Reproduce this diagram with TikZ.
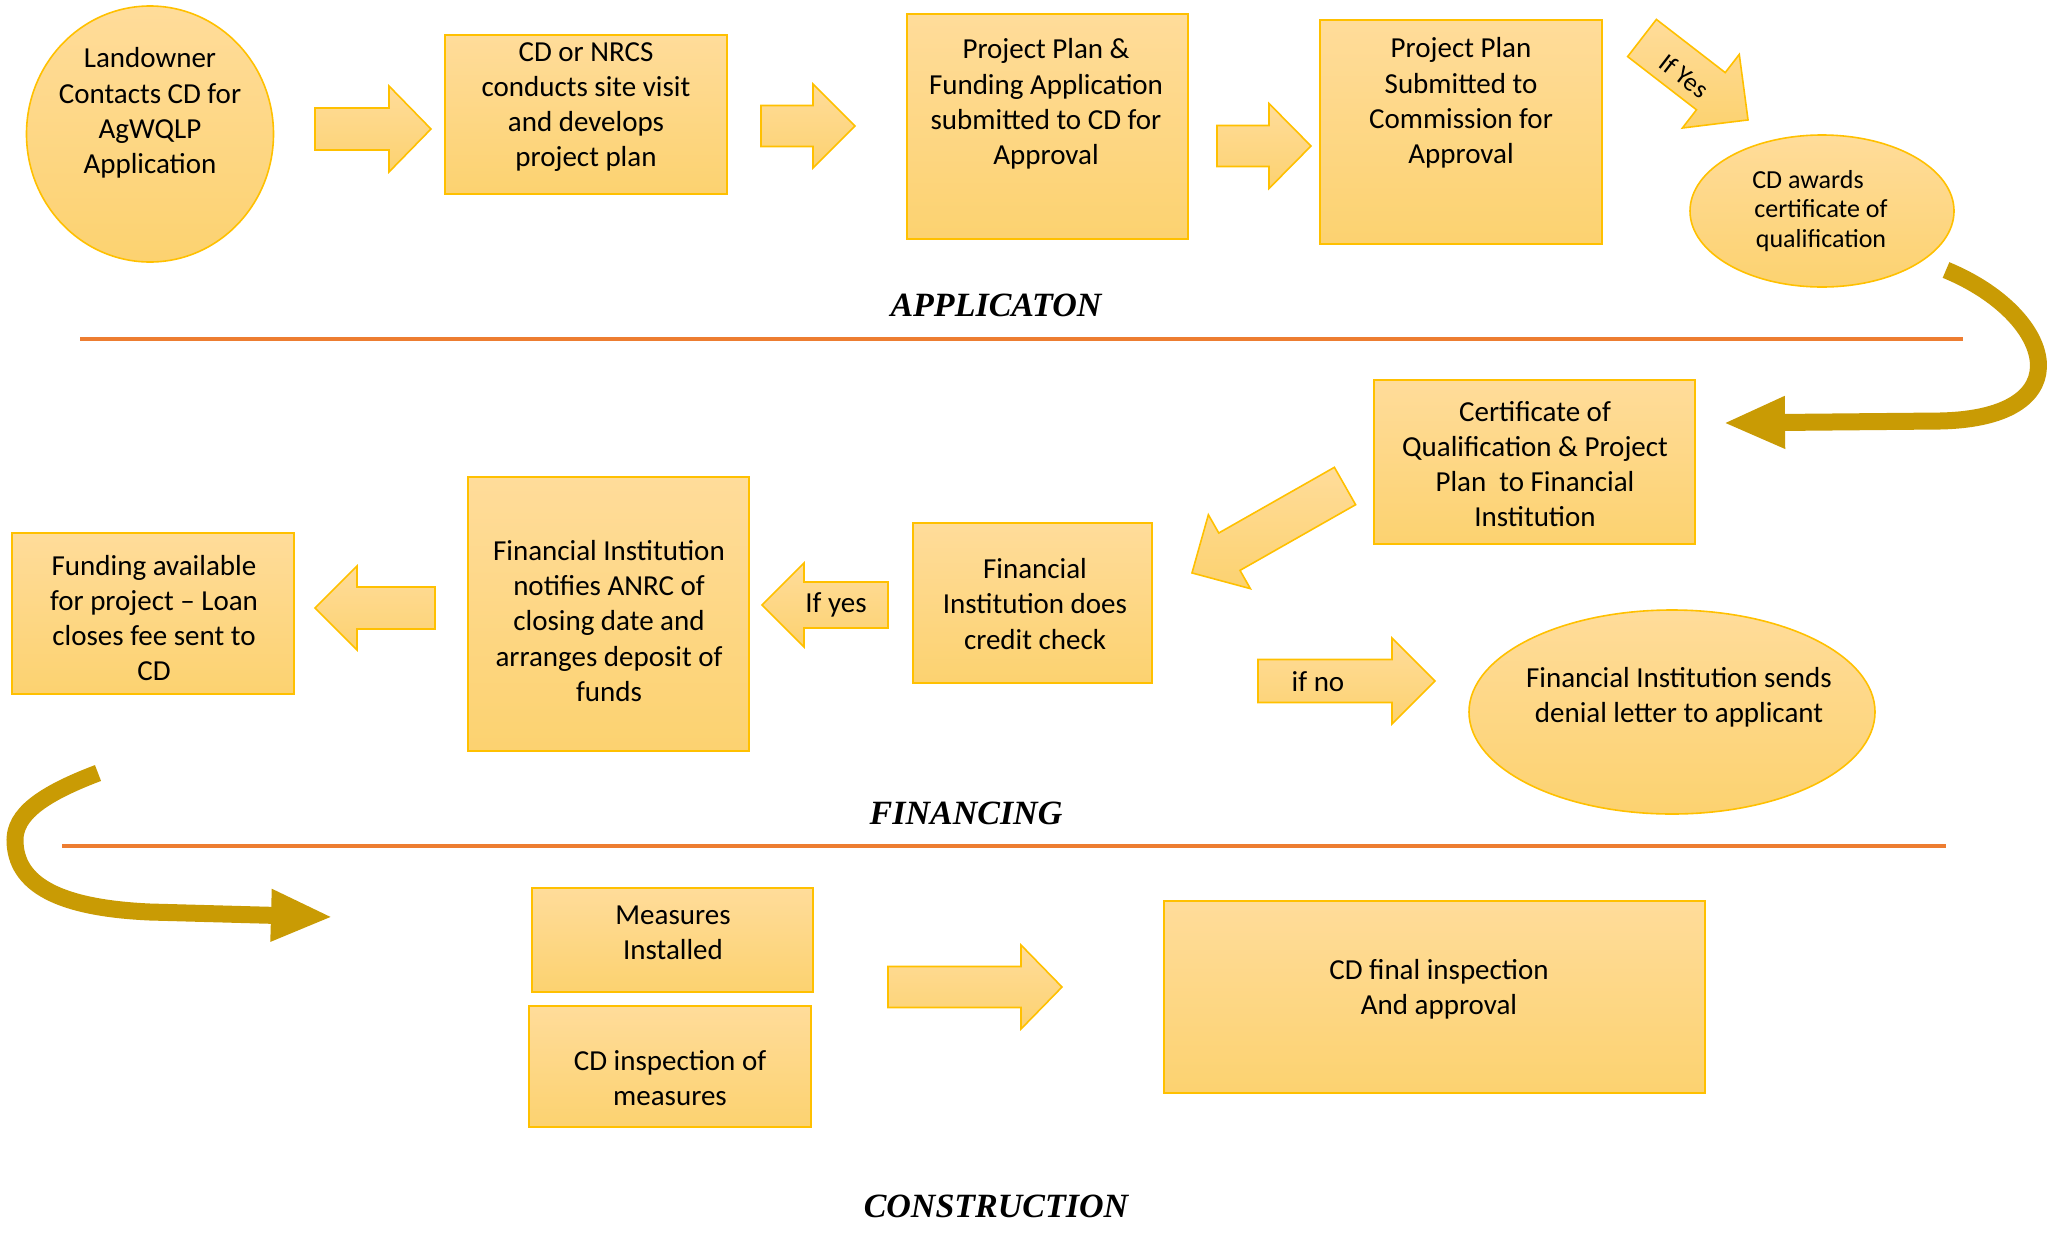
\documentclass[tikz,border=0pt]{standalone}
\usepackage{fontspec}
\setmainfont{Carlito}
\newfontfamily\titlefont{Liberation Serif}
\usetikzlibrary{arrows.meta}

\definecolor{boxtop}{RGB}{255,220,154}
\definecolor{boxbottom}{RGB}{252,210,112}
\definecolor{boxline}{RGB}{255,192,0}
\definecolor{swoop}{RGB}{201,155,4}
\definecolor{rulecol}{RGB}{237,125,49}

\tikzset{
  box/.style={draw=boxline, line width=0.8pt, top color=boxtop, bottom color=boxbottom},
  txt/.style={align=center, inner sep=0pt, yshift=-1.5pt, font=\fontsize{14.5}{17.6}\selectfont},
  smalltxt/.style={align=center, inner sep=0pt, yshift=-1pt, font=\fontsize{13}{14.6}\selectfont},
  section/.style={inner sep=0pt, font=\fontsize{17}{20}\selectfont\titlefont\bfseries\itshape},
  sectionrule/.style={draw=rulecol, line width=1.6pt},
  swooparrow/.style={draw=swoop, line width=8.5pt, -{Triangle[length=31pt,width=24pt]}}
}

% tail x, tail y, angle, length, shaft width, head width, head length
\newcommand{\blockarrow}[7]{%
  \begin{scope}[shift={(#1,#2)}, rotate=#3]
    \path[box] (0,-#5/2) -- (#4-#7,-#5/2) -- (#4-#7,-#6/2) -- (#4,0)
      -- (#4-#7,#6/2) -- (#4-#7,#5/2) -- (0,#5/2) -- cycle;
  \end{scope}}

\begin{document}
\begin{tikzpicture}[x=0.5pt, y=-0.5pt]
\useasboundingbox (0,0) rectangle (2060,1232);

% application
\path[box] (150,134) ellipse [x radius=123.5, y radius=128];
\node[txt] (landowner) at (150,110) {Landowner\\Contacts CD for\\AgWQLP\\Application};
\blockarrow{315}{129}{0}{116}{42}{86}{42}
\path[box] (445,35) rectangle (727,194);
\node[txt] (visit) at (586,104) {CD or NRCS\\conducts site visit\\and develops\\project plan};
\blockarrow{761}{126}{0}{94}{41}{84}{42}
\path[box] (907,14) rectangle (1188,239);
\node[txt] (funding) at (1046,101) {Project Plan \&\\Funding Application\\submitted to CD for\\Approval};
\blockarrow{1217}{146}{0}{94}{41}{85}{42}
\path[box] (1320,20) rectangle (1602,244);
\node[txt] (commission) at (1461,100) {Project Plan\\Submitted to\\Commission for\\Approval};
\blockarrow{1642}{38}{-37.7}{134}{47}{93}{47}
\node[smalltxt, rotate=-37.7] (ifyes) at (1684,74) {If Yes};
\path[box] (1822,211) ellipse [x radius=132, y radius=76];
\node[smalltxt] (awards) at (1821,209) {CD awards\hspace*{1em}\\certificate of\\qualification};

\node[section] (application) at (996,305) {APPLICATON};
\coordinate (rule1a) at (80,339);
\coordinate (rule1b) at (1963,339);
\draw[sectionrule] (rule1a) -- (rule1b);

\coordinate (swoop1a) at (1946,270);
\coordinate (swoop1b) at (1723,423);
\draw[swooparrow] (swoop1a) .. controls (2055,315) and (2085,418) .. (1940,421) -- (swoop1b);

% financing
\path[box] (1374,380) rectangle (1695,544);
\node[txt] (certificate) at (1535,461) {Certificate of\\Qualification \& Project\\Plan ~to Financial\\Institution};
\blockarrow{1345}{486}{209.6}{176}{43}{85}{43}
\path[box] (913,523) rectangle (1152,683);
\node[txt] (credit) at (1035,601) {Financial\\Institution does\\credit check};
\blockarrow{888}{605}{180}{126}{46}{84}{42}
\node[txt] (ifyesleft) at (836,602) {If yes};
\blockarrow{1258}{681}{0}{177}{43}{86}{43}
\node[txt] (ifno) at (1318,679) {if no};
\path[box] (1672,712) ellipse [x radius=203, y radius=102];
\node[txt] (denial) at (1679,694) {Financial Institution sends\\denial letter to applicant};
\path[box] (468,477) rectangle (749,751);
\node[txt] (notifies) at (609,618) {Financial Institution\\notifies ANRC of\\closing date and\\arranges deposit of\\funds};
\blockarrow{435}{608}{180}{120}{42}{84}{42}
\path[box] (12,533) rectangle (294,694);
\node[txt] (available) at (154,615) {Funding available\\for project -- Loan\\closes fee sent to\\CD};

\node[section] (financing) at (966,813) {FINANCING};
\coordinate (rule2a) at (62,846);
\coordinate (rule2b) at (1946,846);
\draw[sectionrule] (rule2a) -- (rule2b);

\coordinate (swoop2a) at (98,773);
\coordinate (swoop2b) at (333,917);
\draw[swooparrow] (swoop2a) .. controls (40,795) and (15,815) .. (15,840)
  .. controls (15,885) and (60,908) .. (150,912) -- (swoop2b);

% construction
\path[box] (532,888) rectangle (813,992);
\node[txt] (installed) at (673,930) {Measures\\Installed};
\path[box] (529,1006) rectangle (811,1127);
\node[txt] (inspection) at (670,1075) {CD inspection of\\measures};
\blockarrow{888}{987}{0}{174}{41}{84}{41}
\path[box] (1164,901) rectangle (1705,1093);
\node[txt] (final) at (1439,986) {CD final inspection\\And approval};

\node[section] (construction) at (996,1206) {CONSTRUCTION};
\end{tikzpicture}
\end{document}
